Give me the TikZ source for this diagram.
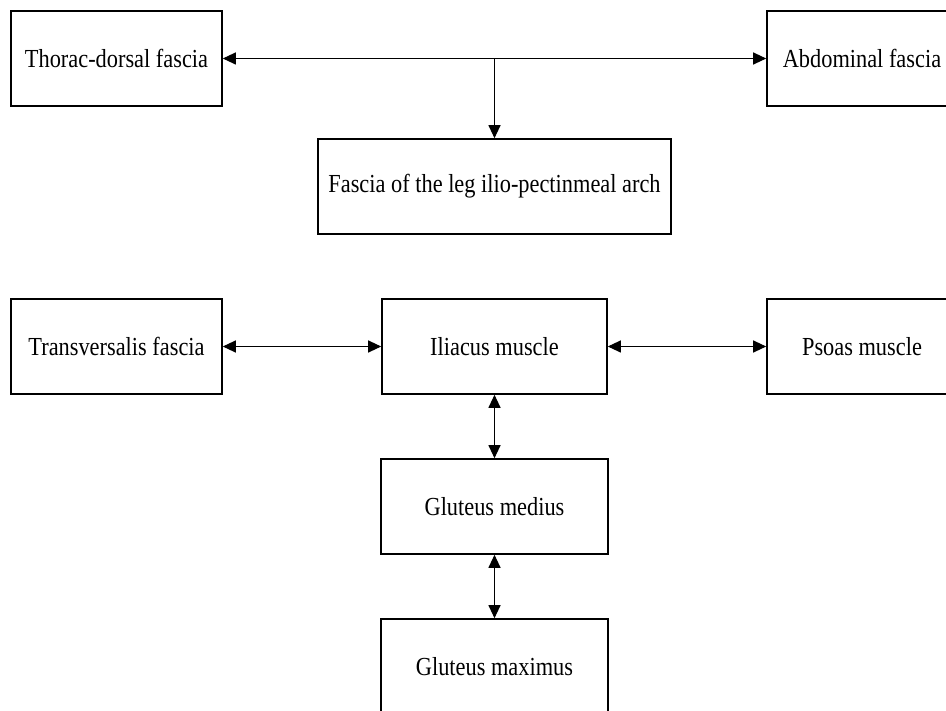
\documentclass[tikz,border=0pt]{standalone}
\usepackage{fontspec}
\usepackage{graphicx}
\setmainfont{Liberation Serif}
\usetikzlibrary{arrows.meta}
% narrow, tall lettering for the box labels
\newcommand\boxtext[1]{\scalebox{0.86}[1]{#1}}
\begin{document}
\begin{tikzpicture}[x=1pt,y=-1pt,
  box/.style={draw,line width=1.6pt,rectangle,minimum height=95pt,
    inner sep=0pt,font=\fontsize{26}{30}\selectfont},
  link/.style={line width=1.1pt,{Triangle[length=13pt,width=12pt]}-{Triangle[length=13pt,width=12pt]}},
  down/.style={line width=1.1pt,-{Triangle[length=13pt,width=12pt]}}]
\useasboundingbox (0,0) rectangle (946,711);
\clip (0,0) rectangle (946,711);
% upper group
\node[box,minimum width=211pt] (td) at (116.5,58.5) {\boxtext{Thorac-dorsal fascia}};
\node[box,minimum width=190pt] (af) at (862,58.5) {\boxtext{Abdominal fascia}};
\node[box,minimum width=353pt] (fl) at (494.5,186.5) {\boxtext{Fascia of the leg ilio-pectinmeal arch}};
\draw[link] (td.east) -- (af.west);
\coordinate (j) at (fl.north |- td.east);
\draw[down] (j) -- (fl.north);
% lower group
\node[box,minimum width=211pt] (tf) at (116.5,346.5) {\boxtext{Transversalis fascia}};
\node[box,minimum width=225pt] (il) at (494.5,346.5) {\boxtext{Iliacus muscle}};
\node[box,minimum width=190pt] (ps) at (862,346.5) {\boxtext{Psoas muscle}};
\node[box,minimum width=227pt] (gm) at (494.5,506.5) {\boxtext{Gluteus medius}};
\node[box,minimum width=227pt] (gx) at (494.5,666.5) {\boxtext{Gluteus maximus}};
\draw[link] (tf.east) -- (il.west);
\draw[link] (il.east) -- (ps.west);
\draw[link] (il.south) -- (gm.north);
\draw[link] (gm.south) -- (gx.north);
\end{tikzpicture}
\end{document}
